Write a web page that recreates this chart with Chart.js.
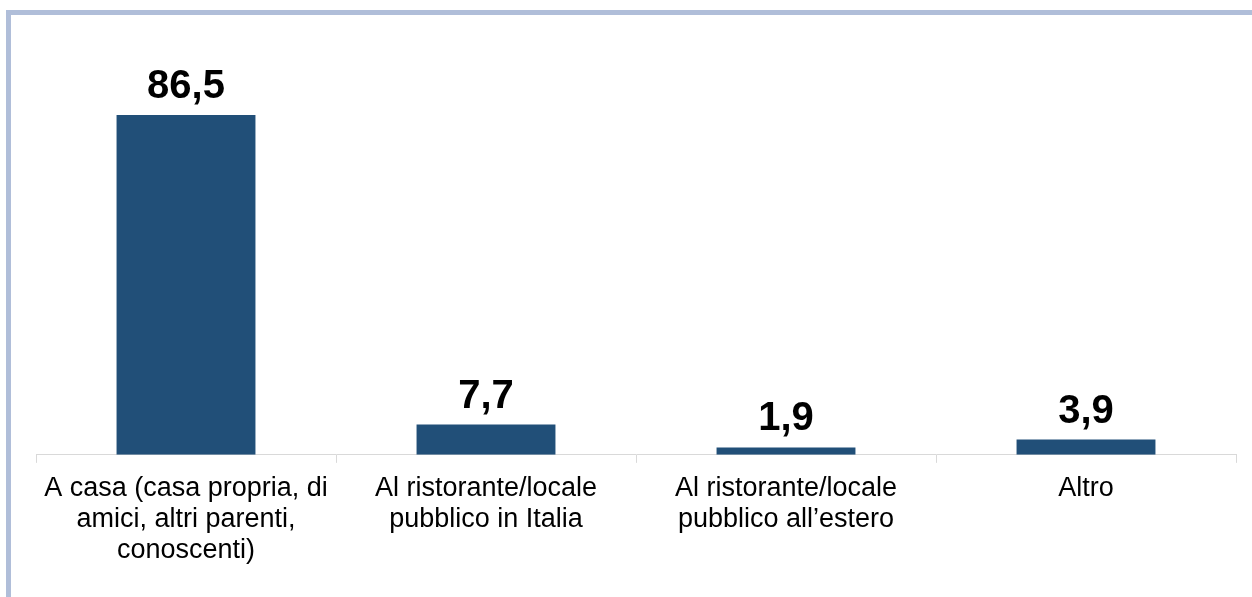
<!DOCTYPE html>
<html>
<head>
<meta charset="utf-8">
<script src="https://cdn.jsdelivr.net/npm/chart.js@4"></script>
<style>
  html, body { margin: 0; padding: 0; background: #fff; }
  #wrap { position: relative; width: 1252px; height: 597px; overflow: hidden; }
  #frame {
    position: absolute; left: 6px; top: 10px; width: 1300px; height: 700px;
    border-left: 5px solid #B0BED9; border-top: 5px solid #B0BED9;
  }
  canvas { position: absolute; left: 0; top: 0; }
</style>
</head>
<body>
<div id="wrap">
  <div id="frame"></div>
  <canvas id="luogoChart" width="1252" height="597"></canvas>
</div>
<script>
// categorie e valori (%)
const categories = [
    ['A casa (casa propria, di', 'amici, altri parenti,', 'conoscenti)'],
    ['Al ristorante/locale', 'pubblico in Italia'],
    ['Al ristorante/locale', 'pubblico all\u2019estero'],
    'Altro'
];
const values = [86.5, 7.7, 1.9, 3.9];

const FONT = "'Liberation Sans', Arial, sans-serif";

// etichette sopra le barre
const barLabels = {
    id: 'barLabels',
    afterDatasetsDraw(chart) {
        const ctx = chart.ctx;
        const meta = chart.getDatasetMeta(0);
        ctx.save();
        ctx.font = 'bold 40px ' + FONT;
        ctx.fillStyle = '#000';
        ctx.textAlign = 'center';
        ctx.textBaseline = 'alphabetic';
        meta.data.forEach((bar, i) => {
            const txt = values[i].toFixed(1).replace('.', ',');
            ctx.fillText(txt, bar.x, bar.y - 17);
        });
        ctx.restore();
    }
};

new Chart(document.getElementById('luogoChart').getContext('2d'), {
    type: 'bar',
    data: {
        labels: categories,
        datasets: [{
            data: values,
            backgroundColor: '#214F78',
            borderWidth: 0,
            categoryPercentage: 1,
            barPercentage: 0.463
        }]
    },
    options: {
        responsive: false,
        animation: false,
        layout: { padding: { left: 36, right: 16, top: 62, bottom: 21 } },
        plugins: {
            legend: { display: false },
            tooltip: { enabled: false }
        },
        scales: {
            y: { display: false, min: 0, max: 100 },
            x: {
                grid: {
                    drawOnChartArea: false,
                    drawTicks: true,
                    tickLength: 8,
                    color: '#D9D9D9',
                    lineWidth: 1
                },
                border: { display: true, color: '#D9D9D9', width: 1 },
                ticks: {
                    color: '#000',
                    padding: 10,
                    maxRotation: 0,
                    autoSkip: false,
                    font: { family: FONT, size: 27, lineHeight: 1.15 }
                }
            }
        }
    },
    plugins: [barLabels]
});
</script>
</body>
</html>
